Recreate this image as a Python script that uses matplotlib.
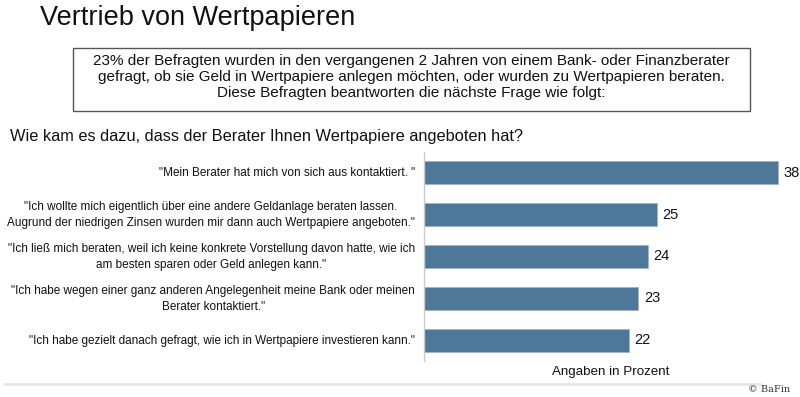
import matplotlib.pyplot as plt
from matplotlib.patches import Rectangle
from matplotlib.lines import Line2D

plt.rcParams['font.family'] = ['Liberation Sans', 'DejaVu Sans']

# data
answers = [
    '"Mein Berater hat mich von sich aus kontaktiert. "',
    '"Ich wollte mich eigentlich über eine andere Geldanlage beraten lassen.\nAugrund der niedrigen Zinsen wurden mir dann auch Wertpapiere angeboten."',
    '"Ich ließ mich beraten, weil ich keine konkrete Vorstellung davon hatte, wie ich\nam besten sparen oder Geld anlegen kann."',
    '"Ich habe wegen einer ganz anderen Angelegenheit meine Bank oder meinen\nBerater kontaktiert."',
    '"Ich habe gezielt danach gefragt, wie ich in Wertpapiere investieren kann."',
]
percent = [38, 25, 24, 23, 22]

title = "Vertrieb von Wertpapieren"
intro = ("23% der Befragten wurden in den vergangenen 2 Jahren von einem Bank- oder Finanzberater\n"
         "gefragt, ob sie Geld in Wertpapiere anlegen möchten, oder wurden zu Wertpapieren beraten.\n"
         "Diese Befragten beantworten die nächste Frage wie folgt:")
question = "Wie kam es dazu, dass der Berater Ihnen Wertpapiere angeboten hat?"

W, H = 800, 397
fig = plt.figure(figsize=(W / 100, H / 100), dpi=100)


def fx(x):
    return x / W


def fy(y):
    return 1 - y / H


ax = fig.add_axes([fx(424), fy(361), fx(373), (361 - 152) / H])
pos = range(len(percent))
ax.barh(pos, percent, height=0.55, color="#4e7899", edgecolor="#9fb6c8", linewidth=0.6)
ax.set_ylim(4.5, -0.5)
ax.set_xlim(0, 40)
for i, v in enumerate(percent):
    ax.text(v + 0.6, i, str(v), va="center", ha="left", fontsize=10.5, color="#111111")
ax.set_xticks([])
ax.set_yticks([])
for s in ["top", "right", "bottom"]:
    ax.spines[s].set_visible(False)
ax.spines["left"].set_color("#cccccc")
ax.spines["left"].set_linewidth(1)

# category labels
for i, lab in enumerate(answers):
    y_px = 173 + 42 * i
    fig.text(fx(415), fy(y_px), lab, ha="right", va="center", fontsize=8.5,
             multialignment="center", linespacing=1.4, color="#111111")

fig.text(fx(40), fy(18), title, ha="left", va="center", fontsize=19.5, color="#111111")

fig.patches.append(Rectangle((fx(73), fy(111)), fx(750 - 73), (111 - 48) / H,
                             transform=fig.transFigure, fill=False,
                             edgecolor="#555555", linewidth=1))
fig.text(fx(411), fy(77), intro, ha="center", va="center", fontsize=11,
         multialignment="center", linespacing=1.2, color="#111111")

fig.text(fx(10), fy(137), question, ha="left", va="center", fontsize=11.8, color="#111111")

fig.text(fx(611), fy(372), "Angaben in Prozent", ha="center", va="center",
         fontsize=9.6, color="#111111")

fig.lines.append(Line2D([fx(5), fx(760)], [fy(384), fy(384)], transform=fig.transFigure,
                        color="#e6e6e6", linewidth=2))
fig.text(fx(790), fy(389), "© BaFin", ha="right", va="center", fontsize=7,
         family="DejaVu Serif", color="#333333")

plt.savefig("out.png", dpi=100)
